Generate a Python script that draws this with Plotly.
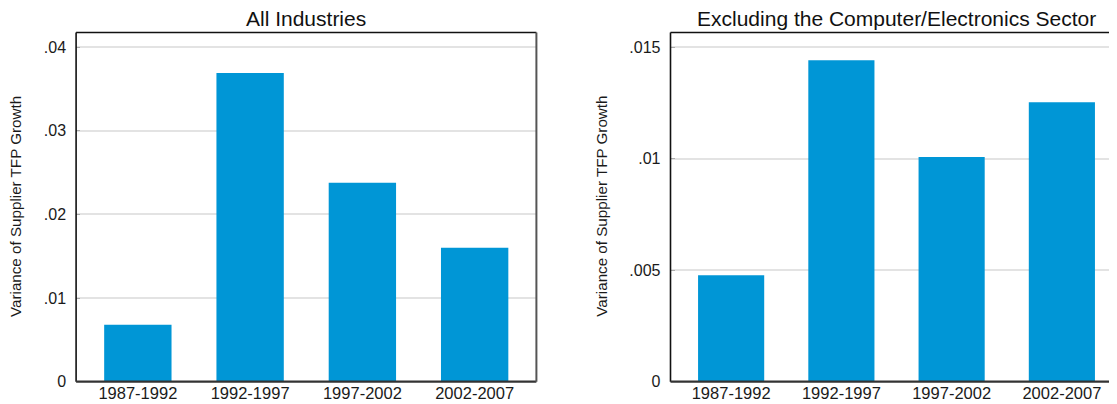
import plotly.graph_objects as go

# ---- data ----
periods = ["1987-1992", "1992-1997", "1997-2002", "2002-2007"]
all_industries = [0.0068, 0.0369, 0.0238, 0.0160]
excl_computer = [0.00478, 0.01443, 0.01008, 0.01254]

left_tickvals = [0, 0.01, 0.02, 0.03, 0.04]
left_ticktext = ["0", ".01", ".02", ".03", ".04"]
right_tickvals = [0, 0.005, 0.01, 0.015]
right_ticktext = ["0", ".005", ".01", ".015"]

title_left = "All Industries"
title_right = "Excluding the Computer/Electronics Sector"
ytitle = "Variance of Supplier TFP Growth"

BAR = "#0096d6"
FONT = "Liberation Sans, Arial, Helvetica, sans-serif"

# The page body has an 8px default margin; size the figure so it exactly fills
# the 1117x404 window and express layout positions in window pixels.
OFF = 8
W, H = 1117 - OFF, 404 - OFF


def px(xs):
    return (xs - OFF) / W


def py(ys):
    return (H - (ys - OFF)) / H


fig = go.Figure()
fig.add_trace(go.Bar(x=periods, y=all_industries, marker_color=BAR,
                     marker_line_width=0, xaxis="x", yaxis="y", showlegend=False))
fig.add_trace(go.Bar(x=periods, y=excl_computer, marker_color=BAR,
                     marker_line_width=0, xaxis="x2", yaxis="y2", showlegend=False))

ydom = [py(381.7), py(32.5)]
xdom1 = [px(76.1), px(536.4)]
xdom2 = [px(670.5), 1.0]

xcommon = dict(type="category", showgrid=False, zeroline=False, ticks="",
               showline=False, automargin=False,
               tickfont=dict(size=16.5, color="#1a1a1a", family=FONT))
ycommon = dict(showgrid=True, gridcolor="#e3e3e3", gridwidth=1.5, zeroline=False,
               ticks="inside", ticklen=4, tickcolor="#aaaaaa", tickwidth=1.2,
               showline=False, ticklabelstandoff=9, automargin=False,
               tickfont=dict(size=16, color="#1a1a1a", family=FONT))

fig.update_layout(
    width=W, height=H,
    margin=dict(l=0, r=0, t=0, b=0, autoexpand=False),
    paper_bgcolor="white", plot_bgcolor="white",
    bargap=0.4,
    font=dict(family=FONT, color="#1a1a1a"),
    xaxis=dict(domain=xdom1, anchor="y", range=[-0.55, 3.55], **xcommon),
    yaxis=dict(domain=ydom, anchor="x", range=[0, 0.04175],
               tickvals=left_tickvals, ticktext=left_ticktext, **ycommon),
    xaxis2=dict(domain=xdom2, anchor="y2", range=[-0.55, 3.5], **xcommon),
    yaxis2=dict(domain=ydom, anchor="x2", range=[0, 0.01567],
                tickvals=right_tickvals, ticktext=right_ticktext, **ycommon),
)


# frame lines
def frame(xr, yr, right=True):
    shapes = [
        dict(type="line", xref=xr + " domain", yref=yr + " domain", x0=0, x1=1, y0=1, y1=1,
             line=dict(color="#111111", width=1.3), layer="above"),
        dict(type="line", xref=xr + " domain", yref=yr + " domain", x0=0, x1=0, y0=0, y1=1,
             line=dict(color="#111111", width=1.6), layer="above"),
        dict(type="line", xref=xr + " domain", yref=yr + " domain", x0=0, x1=1, y0=0, y1=0,
             line=dict(color="#333333", width=2.2), layer="above"),
    ]
    if right:
        shapes.append(dict(type="line", xref=xr + " domain", yref=yr + " domain",
                           x0=1, x1=1, y0=0, y1=1,
                           line=dict(color="#555555", width=2), layer="above"))
    return shapes


fig.update_layout(shapes=frame("x", "y", True) + frame("x2", "y2", False))

# titles
tcy = py(18)
ycy = py(206.7)
fig.add_annotation(text=title_left, xref="paper", yref="paper",
                   x=px(306.2), y=tcy, xanchor="center", yanchor="middle",
                   showarrow=False, font=dict(size=21, color="#111111", family=FONT))
fig.add_annotation(text=title_right, xref="paper", yref="paper",
                   x=px(896.6), y=tcy, xanchor="center", yanchor="middle",
                   showarrow=False, font=dict(size=21, color="#111111", family=FONT))
fig.add_annotation(text=ytitle, xref="paper", yref="paper", textangle=-90,
                   x=px(15.3), y=ycy, xanchor="center", yanchor="middle",
                   showarrow=False, font=dict(size=15.2, color="#1a1a1a", family=FONT))
fig.add_annotation(text=ytitle, xref="paper", yref="paper", textangle=-90,
                   x=px(602), y=ycy, xanchor="center", yanchor="middle",
                   showarrow=False, font=dict(size=15.2, color="#1a1a1a", family=FONT))

fig.write_html("out.html")
